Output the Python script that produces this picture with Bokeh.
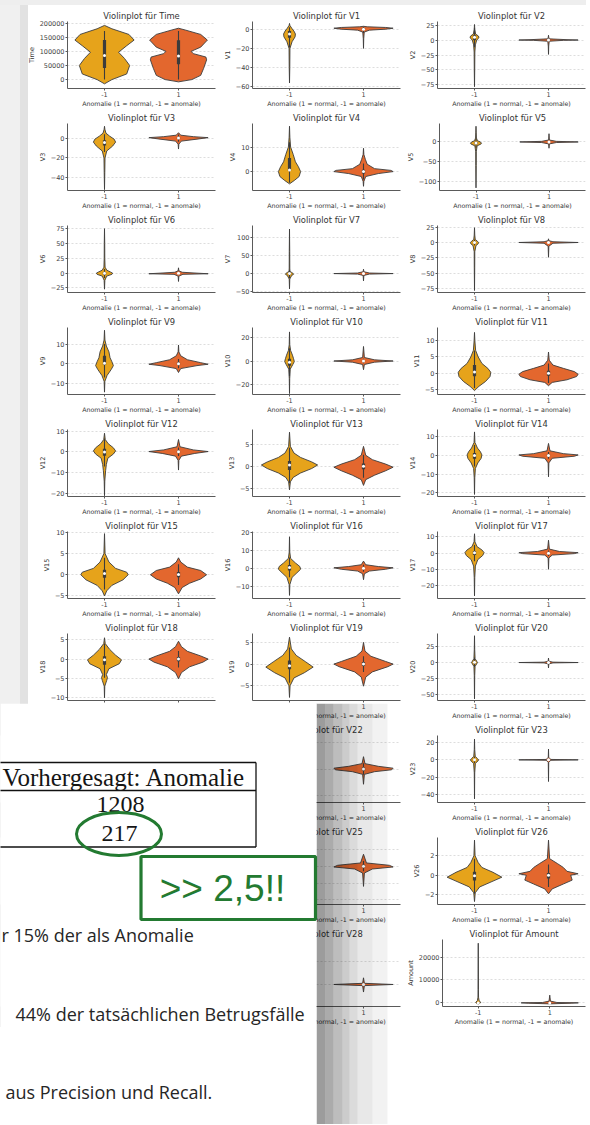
from bokeh.plotting import figure
from bokeh.layouts import row, column
from bokeh.models import Range1d, FixedTicker
from bokeh.embed import file_html
from bokeh.resources import INLINE
from bokeh.core.properties import value

# ---------------- data ----------------
CLASSES = ["-1", "1"]
XLABEL = "Anomalie (1 = normal, -1 = anomale)"

# violin profiles: (y values, half widths) for class -1 (neg) and class 1 (pos)
time_neg = ([-15000, 0, 20000, 50000, 75000, 97000, 120000, 140000, 160000, 180000, 192000],
            [0, 0.1, 0.3, 0.34, 0.27, 0.19, 0.3, 0.4, 0.33, 0.1, 0])
time_pos = ([-8000, 0, 15000, 40000, 70000, 80000, 92000, 100000, 115000, 140000, 160000, 175000, 182000],
            [0, 0.18, 0.3, 0.34, 0.38, 0.37, 0.2, 0.17, 0.3, 0.39, 0.3, 0.1, 0])
v1_neg = ([-56, -40, -20, -13, -8, -5, -2, 1, 4, 6], [0, 0.004, 0.006, 0.035, 0.075, 0.08, 0.06, 0.03, 0.005, 0])
v1_pos = ([-20, -10, -3, -1, 0, 1, 1.8, 2.5, 3], [0, 0.003, 0.01, 0.08, 0.3, 0.4, 0.3, 0.05, 0])
v2_neg = ([-78, -50, -20, -8, 0, 3, 5, 7, 10, 18, 26], [0, 0.003, 0.005, 0.012, 0.03, 0.055, 0.06, 0.05, 0.015, 0.004, 0])
v2_pos = ([-24, -10, -2, -0.5, 0, 0.6, 2, 5, 8], [0, 0.003, 0.01, 0.2, 0.4, 0.25, 0.01, 0.003, 0])
v3_neg = ([-52, -35, -20, -13, -8, -4, -1, 2, 5, 9, 12], [0, 0.004, 0.007, 0.03, 0.11, 0.15, 0.13, 0.07, 0.02, 0.005, 0])
v3_pos = ([-11, -6, -3, -1, 0.5, 1.5, 3, 5.5], [0, 0.005, 0.04, 0.25, 0.4, 0.2, 0.03, 0])
v4_neg = ([-5, -3.5, -2, 0, 2, 4, 7, 10, 14, 18.5], [0, 0.07, 0.13, 0.15, 0.12, 0.08, 0.05, 0.015, 0.005, 0])
v4_pos = ([-6, -4, -2, -0.8, 0, 0.5, 1.2, 3, 5, 7, 9.5], [0, 0.005, 0.03, 0.2, 0.4, 0.37, 0.15, 0.05, 0.025, 0.005, 0])
v5_neg = ([-117, -60, -25, -10, -5, -3, 0, 3, 10, 25, 40], [0, 0.003, 0.004, 0.015, 0.07, 0.075, 0.06, 0.02, 0.006, 0.003, 0])
v5_pos = ([-16, -5, -1.5, 0, 1.5, 5, 21], [0, 0.005, 0.1, 0.4, 0.1, 0.005, 0])
v6_neg = ([-27, -12, -5, -2, 0, 2, 5, 10, 25, 50, 75], [0, 0.005, 0.03, 0.1, 0.11, 0.08, 0.03, 0.008, 0.004, 0.003, 0])
v6_pos = ([-14, -5, -2, -1, 0, 1.5, 4, 9], [0, 0.005, 0.06, 0.4, 0.25, 0.05, 0.005, 0])
v7_neg = ([-42, -15, -5, -2, 0, 3, 6, 15, 60, 122], [0, 0.004, 0.03, 0.055, 0.05, 0.03, 0.006, 0.004, 0.003, 0])
v7_pos = ([-20, -5, -1.5, 0, 1.5, 5, 12], [0, 0.005, 0.08, 0.4, 0.08, 0.005, 0])
v8_neg = ([-78, -40, -15, -5, -2, 0, 2, 5, 12, 24], [0, 0.003, 0.004, 0.02, 0.05, 0.055, 0.04, 0.01, 0.004, 0])
v8_pos = ([-24, -6, -1.2, 0, 1.2, 3, 6], [0, 0.005, 0.06, 0.4, 0.06, 0.005, 0])
v9_neg = ([-14.5, -9, -6, -3, -1, 1, 3, 6, 9, 12, 17], [0, 0.005, 0.035, 0.09, 0.12, 0.1, 0.075, 0.06, 0.025, 0.006, 0])
v9_pos = ([-4.5, -2.5, -1, -0.3, 0.5, 2, 4, 6, 9.5], [0, 0.03, 0.25, 0.4, 0.3, 0.12, 0.03, 0.005, 0])
v10_neg = ([-28, -15, -7, -3, -0.5, 2, 5, 9, 14, 25], [0, 0.003, 0.01, 0.045, 0.065, 0.055, 0.04, 0.015, 0.004, 0])
v10_pos = ([-7.5, -3, -1, 0, 1, 3, 12.5], [0, 0.012, 0.15, 0.4, 0.15, 0.012, 0])
v11_neg = ([-5.3, -4, -2.5, -1, 0.3, 1.5, 3, 5, 7, 10, 12.5], [0, 0.06, 0.15, 0.21, 0.22, 0.18, 0.1, 0.05, 0.015, 0.005, 0])
v11_pos = ([-3.8, -2.8, -2, -1, -0.3, 0.5, 1.5, 2.5, 4, 6.5], [0, 0.05, 0.25, 0.38, 0.4, 0.35, 0.2, 0.06, 0.01, 0])
v12_neg = ([-21, -14, -9, -6, -3, -1, 0.5, 2, 4, 6, 9], [0, 0.004, 0.015, 0.025, 0.045, 0.12, 0.15, 0.12, 0.05, 0.01, 0])
v12_pos = ([-8.7, -4, -2, -0.7, 0.2, 1, 2.5, 6], [0, 0.005, 0.04, 0.22, 0.4, 0.2, 0.02, 0])
v13_neg = ([-5.3, -3.5, -2.5, -1.5, -0.5, 0.3, 1, 2, 3, 4.5, 7.7], [0, 0.012, 0.05, 0.15, 0.3, 0.38, 0.3, 0.15, 0.06, 0.012, 0])
v13_pos = ([-4.3, -3, -2, -1, -0.2, 0.5, 1.5, 2.5, 4.5], [0, 0.03, 0.15, 0.3, 0.4, 0.3, 0.12, 0.03, 0])
v14_neg = ([-21, -12, -7, -4, -1.5, 0.3, 2, 4, 7, 12.7], [0, 0.004, 0.012, 0.045, 0.09, 0.1, 0.08, 0.04, 0.006, 0])
v14_pos = ([-11.5, -4, -1.5, -0.4, 0.3, 1, 2.5, 6.5], [0, 0.005, 0.05, 0.35, 0.4, 0.2, 0.02, 0])
v15_neg = ([-5, -3.8, -2.5, -1.2, 0, 0.6, 1.5, 3, 5, 9.7], [0, 0.03, 0.1, 0.25, 0.32, 0.3, 0.15, 0.06, 0.008, 0])
v15_pos = ([-4.5, -3, -2, -1, 0, 1, 1.8, 3, 4], [0, 0.05, 0.15, 0.3, 0.38, 0.3, 0.12, 0.03, 0])
v16_neg = ([-15, -9, -5, -2.5, -0.5, 1, 3, 5.5, 9, 17.5], [0, 0.005, 0.035, 0.1, 0.15, 0.14, 0.08, 0.015, 0.004, 0])
v16_pos = ([-6.3, -3, -1.5, -0.5, 0.3, 1, 2, 4], [0, 0.012, 0.08, 0.3, 0.4, 0.2, 0.03, 0])
v17_neg = ([-26.5, -15, -8, -4, -1.5, 0.3, 2, 4, 7, 12], [0, 0.004, 0.012, 0.045, 0.11, 0.13, 0.1, 0.035, 0.006, 0])
v17_pos = ([-10, -3, -1.2, -0.3, 0.3, 1, 2.5, 8], [0, 0.005, 0.05, 0.35, 0.4, 0.15, 0.012, 0])
v18_neg = ([-10, -7, -5.5, -4.8, -4, -2.5, -1.2, -0.2, 1, 2.5, 4, 5.5],
           [0, 0.004, 0.03, 0.04, 0.025, 0.06, 0.2, 0.23, 0.15, 0.07, 0.01, 0])
v18_pos = ([-5.1, -3.5, -2, -0.8, 0, 0.8, 2, 3.2, 4.6], [0, 0.04, 0.15, 0.33, 0.4, 0.3, 0.12, 0.04, 0])
v19_neg = ([-7.7, -5, -3.2, -2, -0.7, 0.5, 2, 3.5, 6.2], [0, 0.008, 0.06, 0.2, 0.32, 0.22, 0.09, 0.025, 0])
v19_pos = ([-5.1, -3, -1.8, -0.6, 0, 0.6, 1.8, 3, 5], [0, 0.03, 0.12, 0.33, 0.4, 0.3, 0.1, 0.02, 0])
v20_neg = ([-57, -20, -6, -2, 0, 2, 6, 20, 42], [0, 0.003, 0.008, 0.03, 0.04, 0.03, 0.008, 0.003, 0])
v20_pos = ([-8.5, -2, -0.6, 0, 0.6, 2, 7], [0, 0.005, 0.06, 0.4, 0.06, 0.005, 0])
v22_pos = ([-5.7, -2, -1, -0.3, 0.3, 1, 2, 4.6], [0, 0.012, 0.15, 0.38, 0.4, 0.2, 0.02, 0])
v23_neg = ([-45, -15, -4, -1.5, 0, 1.5, 4, 12, 24], [0, 0.003, 0.012, 0.045, 0.055, 0.04, 0.01, 0.003, 0])
v23_pos = ([-25, -3, -0.5, 0, 0.5, 3, 12.5], [0, 0.003, 0.03, 0.4, 0.03, 0.003, 0])
v25_pos = ([-6, -2, -0.8, -0.2, 0.3, 1, 3.6], [0, 0.012, 0.12, 0.4, 0.35, 0.04, 0])
v26_neg = ([-2.7, -1.8, -1.2, -0.6, -0.2, 0.3, 0.8, 1.3, 2, 3.6], [0, 0.01, 0.07, 0.25, 0.37, 0.25, 0.1, 0.05, 0.008, 0])
v26_pos = ([-1.9, -1.4, -0.9, -0.5, 0, 0.15, 0.4, 0.8, 1.2, 1.7, 3.6],
           [0, 0.05, 0.2, 0.32, 0.3, 0.4, 0.25, 0.2, 0.12, 0.015, 0])
v28_pos = ([-3.3, -0.5, 0, 0.5, 2.9], [0, 0.012, 0.4, 0.012, 0])
amount_neg = ([-500, 0, 300, 1000, 2500, 6000, 26000], [0, 0.03, 0.035, 0.012, 0.004, 0.003, 0])
amount_pos = ([-400, -100, 50, 200, 800, 3400], [0, 0.3, 0.4, 0.1, 0.01, 0])

# inner box statistics: (q1, median, q3, whisker low, whisker high) for class -1, class 1
time_box = [(41000, 85000, 140000, 0, 172000), (54000, 84000, 139000, 0, 172000)]
v1_box = [(-9, -5, -2, -19, 2), (-0.9, 0.02, 1.3, -4, 2.5)]
v2_box = [(-0.5, 4.5, 8, -12, 20), (-0.6, 0.06, 0.8, -2.6, 2.9)]
v3_box = [(-7.5, -4.5, -2, -14, 4), (-0.9, 0.2, 1.0, -3.7, 3.8)]
v4_box = [(0.3, 0.7, 5.5, -4.5, 12), (-0.8, 0, 0.8, -3.2, 3.3)]
v5_box = [(-6, -2.5, 0, -15, 8), (-0.7, -0.05, 0.6, -2.5, 2.4)]
v6_box = [(-2.5, 0, 2, -8, 7), (-0.8, -0.3, 0.4, -2.6, 2.2)]
v7_box = [(-4, 0, 3, -12, 10), (-0.55, 0.04, 0.57, -2.2, 2.2)]
v8_box = [(-1.5, 0, 1.5, -5, 5), (-0.2, 0.02, 0.33, -1, 1.1)]
v9_box = [(-0.5, 0.2, 4, -7, 10), (-0.6, -0.05, 0.6, -2.4, 2.4)]
v10_box = [(-4, -1, 2, -13, 11), (-0.5, -0.09, 0.45, -2, 1.9)]
v11_box = [(-0.9, 0.4, 2.5, -4.5, 7), (-0.76, -0.03, 0.74, -3, 3)]
v12_box = [(-1.8, 0, 1.5, -7, 6.5), (-0.4, 0.14, 0.6, -1.9, 2.1)]
v13_box = [(-0.8, 0.3, 1.2, -3.8, 4.2), (-0.65, -0.01, 0.66, -2.6, 2.6)]
v14_box = [(-1.7, 0, 1.3, -6, 5.7), (-0.42, 0.05, 0.49, -1.8, 1.9)]
v15_box = [(-0.7, 0.3, 1.2, -3.5, 4), (-0.58, 0.05, 0.65, -2.4, 2.5)]
v16_box = [(-1.2, 0.5, 1.8, -5, 6), (-0.47, 0.07, 0.52, -1.9, 2)]
v17_box = [(-1.2, 0.3, 1.3, -5, 5), (-0.48, -0.07, 0.4, -1.8, 1.7)]
v18_box = [(-1.5, -0.2, 0.7, -4.8, 4), (-0.58, 0, 0.5, -2.2, 2.1)]
v19_box = [(-1.2, -0.4, 0.8, -4.3, 3.8), (-0.46, 0, 0.46, -1.8, 1.8)]
v20_box = [(-1.5, 0.4, 2.2, -7, 8), (-0.21, -0.06, 0.13, -0.7, 0.6)]
v22_box = [None, (-0.54, 0, 0.53, -2.1, 2.1)]
v23_box = [(-1, 0, 1, -4, 4), (-0.16, -0.01, 0.15, -0.6, 0.6)]
v25_box = [None, (-0.35, 0.04, 0.44, -1.5, 1.6)]
v26_box = [(-0.55, -0.05, 0.35, -1.9, 1.7), (-0.33, 0, 0.24, -1.2, 1.1)]
v28_box = [None, (-0.05, 0.01, 0.08, -0.24, 0.27)]
amount_box = [(1, 9, 105, 0, 260), (5.6, 22, 77, 0, 185)]

# y tick labels of each panel
time_ticks = [0, 50000, 100000, 150000, 200000]
v1_ticks = [-60, -40, -20, 0]
v2_ticks = [-75, -50, -25, 0, 25]
v3_ticks = [-40, -20, 0]
v4_ticks = [0, 10]
v5_ticks = [-100, -50, 0]
v6_ticks = [-25, 0, 25, 50, 75]
v7_ticks = [-50, 0, 50, 100]
v8_ticks = [-75, -50, -25, 0, 25]
v9_ticks = [-10, 0, 10]
v10_ticks = [-20, 0, 20]
v11_ticks = [-5, 0, 5, 10]
v12_ticks = [-20, -10, 0, 10]
v13_ticks = [-5, 0, 5]
v14_ticks = [-20, -10, 0, 10]
v15_ticks = [-5, 0, 5, 10]
v16_ticks = [-10, 0, 10, 20]
v17_ticks = [-20, -10, 0, 10]
v18_ticks = [-10, -5, 0, 5]
v19_ticks = [-5, 0, 5]
v20_ticks = [-50, -25, 0, 25]
v22_ticks = [-10, 0, 10]
v23_ticks = [-40, -20, 0, 20]
v25_ticks = [-10, -5, 0, 5]
v26_ticks = [-2, 0, 2]
v28_ticks = [0, 10]
amount_ticks = [0, 10000, 20000]

# name, profile -1, profile 1, box stats, y limits, y ticks   (None = hidden behind the page)
PANELS = [
    ("Time", time_neg, time_pos, time_box, (-31500, 205800), time_ticks),
    ("V1", v1_neg, v1_pos, v1_box, (-61.7, 8), v1_ticks),
    ("V2", v2_neg, v2_pos, v2_box, (-81, 31), v2_ticks),
    ("V3", v3_neg, v3_pos, v3_box, (-52.9, 14.8), v3_ticks),
    ("V4", v4_neg, v4_pos, v4_box, (-7.7, 19.6), v4_ticks),
    ("V5", v5_neg, v5_pos, v5_box, (-123.7, 47), v5_ticks),
    ("V6", v6_neg, v6_pos, v6_box, (-32.6, 80.3), v6_ticks),
    ("V7", v7_neg, v7_pos, v7_box, (-51.8, 131.6), v7_ticks),
    ("V8", v8_neg, v8_pos, v8_box, (-81.2, 27.6), v8_ticks),
    ("V9", v9_neg, v9_pos, v9_box, (-15.7, 18.4), v9_ticks),
    ("V10", v10_neg, v10_pos, v10_box, (-28.8, 28.8), v10_ticks),
    ("V11", v11_neg, v11_pos, v11_box, (-6.5, 14), v11_ticks),
    ("V12", v12_neg, v12_pos, v12_box, (-21.4, 10.8), v12_ticks),
    ("V13", v13_neg, v13_pos, v13_box, (-6.8, 8.3), v13_ticks),
    ("V14", v14_neg, v14_pos, v14_box, (-22.1, 14), v14_ticks),
    ("V15", v15_neg, v15_pos, v15_box, (-5.6, 10.2), v15_ticks),
    ("V16", v16_neg, v16_pos, v16_box, (-16.7, 20.4), v16_ticks),
    ("V17", v17_neg, v17_pos, v17_box, (-28.1, 13.4), v17_ticks),
    ("V18", v18_neg, v18_pos, v18_box, (-10.7, 6.6), v18_ticks),
    ("V19", v19_neg, v19_pos, v19_box, (-8.4, 7.05), v19_ticks),
    ("V20", v20_neg, v20_pos, v20_box, (-59.5, 45.5), v20_ticks),
    None,
    ("V22", None, v22_pos, v22_box, (-12.5, 12.5), v22_ticks),
    ("V23", v23_neg, v23_pos, v23_box, (-49.2, 28.1), v23_ticks),
    None,
    ("V25", None, v25_pos, v25_box, (-11.4, 8.6), v25_ticks),
    ("V26", v26_neg, v26_pos, v26_box, (-3.0, 3.87), v26_ticks),
    None,
    ("V28", None, v28_pos, v28_box, (-9.6, 19.6), v28_ticks),
    ("Amount", amount_neg, amount_pos, amount_box, (-1542, 27625), amount_ticks),
]

# texts of the overlaid document page
TABLE_HEADER = "Vorhergesagt: Anomalie"
TABLE_VALUES = ["1208", "217"]
CALLOUT = ">> 2,5!!"
BODY_LINES = ["r 15% der als Anomalie", "44% der tatsächlichen Betrugsfälle", "aus Precision und Recall."]

# ---------------- styling ----------------
FILL = ["#E6A31B", "#E3672E"]
EDGE = "#3c3c3c"
FONT = "DejaVu Sans"
GREEN = "#237a31"
LEFT = [67, 34, 34]
RIGHT = [3, 3, 1]


def fmt(t):
    return str(int(t)).replace("-", "\u2212")


def sizes(col, first):
    top = 21 if first else 14
    return LEFT[col] + 148 + RIGHT[col], top + 70 + 18, top


def blank(col, first):
    w, h, top = sizes(col, first)
    p = figure(width=w, height=h, output_backend="svg", toolbar_location=None,
               x_axis_type=None, y_axis_type=None, outline_line_color=None, min_border=0,
               border_fill_alpha=0)
    p.grid.visible = False
    return p


def panel(spec, col, first):
    name, neg, pos, box, ylim, yticks = spec
    w, h, top = sizes(col, first)
    p = figure(width=w, height=h,
               x_range=Range1d(-0.5, 1.5), y_range=Range1d(*ylim),
               output_backend="svg", toolbar_location=None,
               min_border_left=LEFT[col], min_border_right=RIGHT[col],
               min_border_top=top, min_border_bottom=18,
               outline_line_color=None, border_fill_alpha=0,
               title="Violinplot für " + name)
    p.title.align = "center"
    p.title.text_font = FONT
    p.title.text_font_size = "8.4px"
    p.title.text_font_style = "normal"
    p.title.text_color = "#333333"
    p.title.standoff = 2

    p.ygrid.ticker = FixedTicker(ticks=yticks)
    p.ygrid.grid_line_color = "#cfcfcf"
    p.ygrid.grid_line_dash = "2 2"
    p.ygrid.grid_line_width = 0.7
    p.xgrid.visible = False

    for i, (prof, b) in enumerate(zip([neg, pos], box)):
        if prof is None:
            continue
        ys, ws = prof
        xs = [i + w_ for w_ in ws] + [i - w_ for w_ in ws[::-1]]
        yy = list(ys) + list(ys[::-1])
        p.patch(xs, yy, fill_color=FILL[i], line_color=EDGE, line_width=0.9)
        if b is None:
            continue
        q1, med, q3, lo, hi = b
        p.segment(x0=[i], y0=[lo], x1=[i], y1=[hi], line_color=EDGE, line_width=1.1)
        p.segment(x0=[i], y0=[q1], x1=[i], y1=[q3], line_color=EDGE, line_width=3.2)
        p.scatter(x=[i], y=[med], size=3.0, fill_color="white", line_color=None)

    p.xaxis.ticker = FixedTicker(ticks=[0, 1])
    p.xaxis.major_label_overrides = {0: CLASSES[0], 1: CLASSES[1]}
    p.xaxis.axis_label = XLABEL
    p.yaxis.ticker = FixedTicker(ticks=yticks)
    p.yaxis.major_label_overrides = {t: fmt(t) for t in yticks}
    p.yaxis.axis_label = name
    for ax in (p.xaxis[0], p.yaxis[0]):
        ax.axis_line_color = "#5a5a5a"
        ax.major_tick_line_color = "#5a5a5a"
        ax.minor_tick_line_color = None
        ax.major_tick_in = 0
        ax.major_tick_out = 2
        ax.major_label_text_font = FONT
        ax.major_label_text_font_size = "6.5px"
        ax.major_label_text_color = "#444444"
        ax.axis_label_text_font = FONT
        ax.axis_label_text_font_style = "normal"
        ax.axis_label_text_color = "#333333"
        ax.major_label_standoff = 1
        ax.axis_label_standoff = 1
    p.xaxis.axis_label_text_font_size = "6.3px"
    p.yaxis.axis_label_text_font_size = "6.5px"
    p.xaxis.axis_label_standoff = 0
    return p


rows = []
for r in range(10):
    figs = []
    for c in range(3):
        spec = PANELS[r * 3 + c]
        figs.append(panel(spec, c, r == 0) if spec is not None else blank(c, r == 0))
    rows.append(row(*figs))
grid = column(*rows)

# ---------------- overlaid document page ----------------
ov = figure(width=390, height=421, x_range=Range1d(0, 390), y_range=Range1d(1124, 703),
            output_backend="svg", toolbar_location=None, x_axis_type=None, y_axis_type=None,
            min_border=0, outline_line_color=None, background_fill_alpha=0, border_fill_alpha=0,
            styles={"position": "absolute", "left": "0px", "top": "703px", "z-index": "10"})
ov.grid.visible = False
# shadow bands right of the page
ov.quad(left=[316, 325, 333, 342, 349, 357, 372], right=[325, 333, 342, 349, 357, 372, 387],
        top=703, bottom=1124, fill_color="black",
        fill_alpha=[0.39, 0.33, 0.26, 0.2, 0.14, 0.09, 0.05], line_color=None)
ov.quad(left=[0], right=[316], top=[703], bottom=[1124], fill_color="white", line_color=None)
# table
ov.segment(x0=[-5, -5, -5, 255.5], y0=[762, 790, 846.5, 762],
           x1=[255.5, 255.5, 255.5, 255.5], y1=[762, 790, 846.5, 846.5],
           line_color="#111111", line_width=1.3)
ov.text(x=[123.5], y=[777], text=[TABLE_HEADER], text_font=value("Liberation Serif"),
        text_font_size="25px", text_align="center", text_baseline="middle", text_color="#151515")
ov.text(x=[120, 119], y=[804, 833], text=TABLE_VALUES, text_font=value("Liberation Serif"),
        text_font_size="24px", text_align="center", text_baseline="middle", text_color="#151515")
ov.ellipse(x=[118.5], y=[833.5], width=[85], height=[43], fill_alpha=0,
           line_color=GREEN, line_width=3)
ov.quad(left=[140.5], right=[315], top=[856], bottom=[919], fill_alpha=0,
        line_color=GREEN, line_width=3.2)
ov.text(x=[222], y=[888], text=[CALLOUT], text_font=value("Liberation Sans"),
        text_font_size="37px", text_align="center", text_baseline="middle", text_color=GREEN)
ov.text(x=[1, 15, 5], y=[934, 1013, 1091], text=BODY_LINES, text_font=value("Open Sans"),
        text_font_size="18px", text_align="left", text_baseline="middle", text_color="#262626")

root = column(grid, ov, styles={
    "background": ("linear-gradient(to bottom, #eeeeee 0px, #eeeeee 5px, rgba(255,255,255,0) 5px), "
                   "linear-gradient(to right, #f0f0f0 0px, #f0f0f0 20px, #e2e2e2 20px, "
                   "#e2e2e2 28px, #ffffff 28px)")})

open("out.html", "w").write(file_html(root, INLINE))
